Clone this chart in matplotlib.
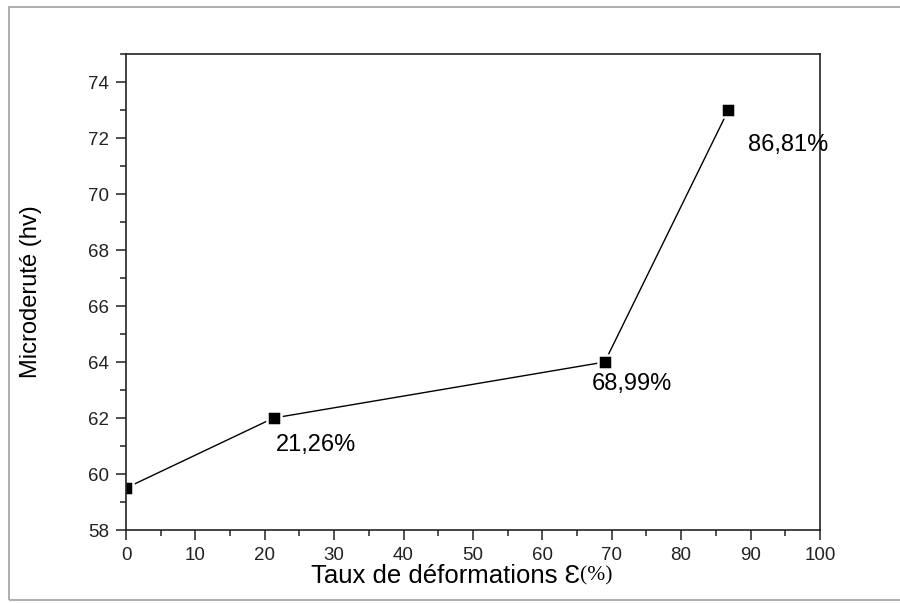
import matplotlib
matplotlib.use('Agg')
import matplotlib.pyplot as plt
from matplotlib.patches import Rectangle
from matplotlib.ticker import MultipleLocator

plt.rcParams['font.family'] = ['Liberation Sans', 'DejaVu Sans']

# data
taux = [0, 21.26, 68.99, 86.81]
micro = [59.5, 62, 64, 73]
labels = ['', '21,26%', '68,99%', '86,81%']
xticks = [0, 10, 20, 30, 40, 50, 60, 70, 80, 90, 100]
yticks = [58, 60, 62, 64, 66, 68, 70, 72, 74]

# label offsets (points) and alignment
offsets = [(0, 0), (1.5, -19.5), (19.8, -15.8), (14.4, -25.2)]
aligns = ['left', 'left', 'center', 'left']

fig = plt.figure(figsize=(9, 6.03), dpi=100)
ax = fig.add_axes([0.14, 0.121, 0.771, 0.7894])

# grey outer frame (no right side visible)
fig.patches.append(Rectangle((9 / 900, 1 - 600 / 603), 1.0, (600 - 7) / 603,
                             transform=fig.transFigure, fill=False,
                             edgecolor='#a8a8a8', linewidth=1.3))

ax.plot(taux, micro, color='black', linewidth=1.0, marker='s', markersize=9.7,
        markerfacecolor='black', markeredgecolor='white', markeredgewidth=1.8)

for x, y, lab, off, ha in zip(taux, micro, labels, offsets, aligns):
    if lab:
        ax.annotate(lab, (x, y), xytext=off, textcoords='offset points',
                    ha=ha, va='center', fontsize=17)

ax.set_xlim(0, 100)
ax.set_ylim(58, 75)
ax.set_xticks(xticks)
ax.set_yticks(yticks)
ax.xaxis.set_minor_locator(MultipleLocator(5))
ax.yaxis.set_minor_locator(MultipleLocator(1))
ax.tick_params(which='major', direction='out', length=7, width=1.1,
               labelsize=13.5, pad=5, colors='#222222')
ax.tick_params(which='minor', direction='out', length=4, width=1.1, colors='#222222')
ax.tick_params(top=False, right=False, which='both')
for sp in ax.spines.values():
    sp.set_linewidth(1.2)
    sp.set_color('#222222')

ax.set_ylabel('Microderuté (hv)', fontsize=17, labelpad=33)
xl = ax.set_xlabel('Taux de déformations \u0190', fontsize=18.5, labelpad=0)
xl.set_horizontalalignment('left')
xl.set_x(0.2666)
fig.canvas.draw()
ax.annotate('(%)', xy=(1, 0.08), xycoords=xl, ha='left', va='bottom',
            fontsize=15.5, family='Liberation Serif')

fig.savefig('out.png', dpi=100)
